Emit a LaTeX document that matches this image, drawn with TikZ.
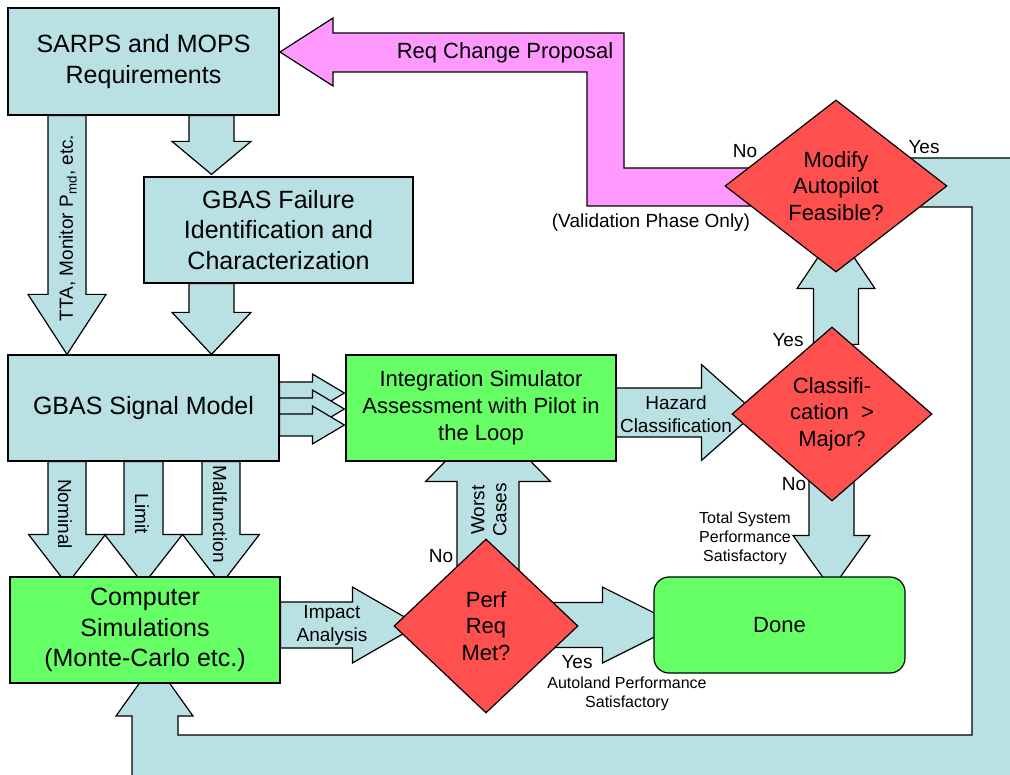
\documentclass[tikz,border=0pt]{standalone}
\usepackage{fontspec}
\setmainfont{Liberation Sans}
\usetikzlibrary{calc,shapes.geometric,backgrounds}

\definecolor{paleblue}{RGB}{185,224,227}
\definecolor{boxgreen}{RGB}{102,255,102}
\definecolor{diared}{RGB}{255,80,80}
\definecolor{pinkish}{RGB}{255,153,255}

% block arrow: start, tip, shaft half width, head half width, head length
\newcommand\blockarrow[6][blk]{%
  \coordinate (bab) at ($(#3)!#6pt!(#2)$);
  \path[#1] ($(#2)!#4pt!90:(#3)$) -- ($(bab)!#4pt!90:(#3)$)
    -- ($(bab)!#5pt!90:(#3)$) -- (#3) -- ($(bab)!#5pt!-90:(#3)$)
    -- ($(bab)!#4pt!-90:(#3)$) -- ($(#2)!#4pt!-90:(#3)$) -- cycle;}

\begin{document}
\begin{tikzpicture}[x=1pt,y=-1pt,
  blk/.style={fill=paleblue,draw=black,line width=1.2pt,line join=miter},
  pinkblk/.style={fill=pinkish,draw=black,line width=1.2pt,line join=miter},
  box/.style={draw=black,line width=1.2pt,inner sep=0pt,align=center,
    font=\fontsize{25}{30.5}\selectfont},
  bluebox/.style={box,fill=paleblue},
  greenbox/.style={box,fill=boxgreen},
  dia/.style={diamond,draw=black,fill=diared,line width=1.2pt,inner sep=0pt,
    align=center,font=\fontsize{22}{26.5}\selectfont},
  lbl/.style={inner sep=0pt,align=center,font=\fontsize{19}{23}\selectfont},
  small/.style={inner sep=0pt,align=center,font=\fontsize{16}{19}\selectfont}]

\useasboundingbox (0,0) rectangle (1010,775);

% ---- blocks ----
\node[bluebox,minimum width=271pt,minimum height=107pt] (sarps) at (143.5,61.5)
  {SARPS and MOPS\\Requirements};
\node[bluebox,minimum width=269pt,minimum height=106pt] (fail) at (278.5,230)
  {GBAS Failure\\Identification and\\Characterization};
\node[bluebox,minimum width=271pt,minimum height=106pt] (sig) at (143.5,408)
  {GBAS Signal Model};
\node[greenbox,minimum width=270pt,minimum height=106pt] (comp) at (145,630)
  {Computer\\Simulations\\(Monte-Carlo etc.)};
\node[greenbox,minimum width=270pt,minimum height=106pt,
  font=\fontsize{22}{27}\selectfont] (integ) at (481,408)
  {Integration Simulator\\Assessment with Pilot in\\the Loop};
\node[greenbox,minimum width=251pt,minimum height=96pt,rounded corners=15pt,
  font=\fontsize{22}{26}\selectfont] (done) at (779.5,625) {Done};
\node[dia,minimum width=222pt,minimum height=172pt,shape aspect=1.29] (modify)
  at (836,186) {Modify\\Autopilot\\Feasible?};
\node[dia,minimum width=200pt,minimum height=174pt,shape aspect=1.15] (class)
  at (832,414) {Classifi-\\cation\ \ >\\Major?};
\node[dia,minimum width=184pt,minimum height=174pt,shape aspect=1.06] (perf)
  at (486,626) {Perf\\Req\\Met?};

% ---- arrow end points ----
\coordinate (ttaS) at ($(sarps.south)+(-76.5,0)$);
\coordinate (ttaT) at ($(sig.north)+(-76.5,0)$);
\coordinate (sfS) at ($(sarps.south)+(68,0)$);
\coordinate (sfT) at ($(fail.north)+(-67,-2)$);
\coordinate (fsS) at ($(fail.south)+(-67,0)$);
\coordinate (fsT) at ($(sig.north)+(68,0)$);
\coordinate (r1S) at ($(sig.east)+(0,-15)$);
\coordinate (r1T) at ($(integ.west)+(-1,-15)$);
\coordinate (r2S) at ($(sig.east)+(0,1)$);
\coordinate (r2T) at ($(integ.west)+(-1,1)$);
\coordinate (r3S) at ($(sig.east)+(0,17)$);
\coordinate (r3T) at ($(integ.west)+(-1,17)$);
\coordinate (nomS) at ($(sig.south)+(-76.5,0)$);
\coordinate (nomT) at ($(comp.north)+(-78,8)$);
\coordinate (limS) at (sig.south);
\coordinate (limT) at ($(comp.north)+(-1.5,8)$);
\coordinate (malS) at ($(sig.south)+(77.5,0)$);
\coordinate (malT) at ($(comp.north)+(76,8)$);
\coordinate (impS) at ($(comp.east)+(0,-5)$);
\coordinate (impT) at ($(perf.west)+(25,-1)$);
\coordinate (worS) at ($(perf.center)+(2,-26)$);
\coordinate (worT) at ($(integ.south)+(7,-44)$);
\coordinate (pdS) at ($(perf.center)+(54,-1)$);
\coordinate (pdT) at ($(done.west)+(25,0)$);
\coordinate (hazS) at ($(integ.east)+(0,4.5)$);
\coordinate (hazT) at ($(class.west)+(24,-1.5)$);
\coordinate (cmS) at ($(class.north)+(4,18)$);
\coordinate (cmT) at ($(modify.south)+(0,-42)$);
\coordinate (cdS) at ($(class.south)+(-0.5,-21)$);
\coordinate (cdT) at ($(done.north)+(52,13)$);

% ---- connectors, behind the blocks ----
\begin{pgfonlayer}{background}
  % change proposal back to the requirements
  \path[pinkblk] (280,52) -- (333,18) -- (333,33) -- (624,33) -- (624,168)
    -- (760,168) -- (760,206) -- (587,206) -- (587,72) -- (333,72)
    -- (333,86) -- cycle;
  % autopilot modification loop back to the simulations
  \path[blk] (900,158) -- (1040,158) -- (1040,800) -- (132,800) -- (132,716)
    -- (116,716) -- (154.5,662) -- (193,716) -- (178,716) -- (178,735)
    -- (972,735) -- (972,207) -- (900,207) -- cycle;
  \blockarrow{ttaS}{ttaT}{19}{39}{60}
  \blockarrow{sfS}{sfT}{22.5}{39.5}{33}
  \blockarrow{fsS}{fsT}{22.5}{39.5}{42}
  \blockarrow{r1S}{r1T}{11}{19}{32}
  \blockarrow{r2S}{r2T}{11}{19}{32}
  \blockarrow{r3S}{r3T}{11}{19}{32}
  \blockarrow{nomS}{nomT}{19}{38.5}{50}
  \blockarrow{limS}{limT}{19.5}{39}{50}
  \blockarrow{malS}{malT}{19}{38.5}{50}
  \blockarrow{impS}{impT}{23}{38}{66}
  \blockarrow{worS}{worT}{31}{62.5}{64}
  \blockarrow{pdS}{pdT}{22.5}{38}{76}
  \blockarrow{hazS}{hazT}{24.5}{48}{54}
  \blockarrow{cmS}{cmT}{22.5}{39}{58}
  \blockarrow{cdS}{cdT}{22.5}{38.5}{54}
\end{pgfonlayer}

% ---- connector labels ----
\node[lbl,rotate=90] (ttaL) at (68,228) {TTA, Monitor P\textsubscript{md}, etc.};
\node[lbl,rotate=-90] (nomL) at (65,514) {Nominal};
\node[lbl,rotate=-90] (limL) at (142,514) {Limit};
\node[lbl,rotate=-90] (malL) at (220,514) {Malfunction};
\node[lbl,font=\fontsize{22}{26}\selectfont] (reqL) at (505,53) {Req Change Proposal};
\node[lbl] (noM) at (745,151) {No};
\node[lbl] (yesM) at (924,147) {Yes};
\node[lbl] (valL) at (651,223) {(Validation Phase Only)};
\node[lbl] (yesC) at (788,340) {Yes};
\node[lbl] (hazL) at (676,414) {Hazard\\Classification};
\node[lbl] (noC) at (794,484) {No};
\node[small] (totL) at (745,538) {Total System\\Performance\\Satisfactory};
\node[lbl] (impL) at (332,625) {Impact\\Analysis};
\node[lbl] (noP) at (441,556) {No};
\node[lbl,rotate=90,font=\fontsize{19}{22}\selectfont] (worL) at (489,510) {Worst\\Cases};
\node[lbl] (yesP) at (577,662) {Yes};
\node[small] (autL) at (627,694) {Autoland Performance\\Satisfactory};
\end{tikzpicture}
\end{document}
